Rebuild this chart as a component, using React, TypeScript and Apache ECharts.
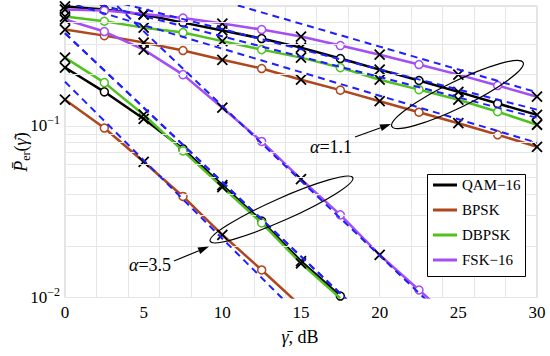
import React, { useEffect, useRef } from 'react';
import * as echarts from 'echarts';

// ---------- data ----------
const SNR_DB = [0, 2.5, 5, 7.5, 10, 12.5, 15, 17.5, 20, 22.5, 25, 27.5, 30];
const MODULATIONS = ['QAM−16', 'BPSK', 'DBPSK', 'FSK−16'];
const X_TICKS = [0, 5, 10, 15, 20, 25, 30];
const Y_MINOR_GRID = [0.02, 0.03, 0.04, 0.05, 0.06, 0.07, 0.08, 0.09, 0.2, 0.3, 0.4];

// alpha = 1.1
const QAM16_A11 = [0.497, 0.477, 0.446, 0.4, 0.36, 0.323, 0.286, 0.247, 0.213, 0.184, 0.158, 0.135, 0.116];
const BPSK_A11 = [0.3645, 0.336, 0.306, 0.275, 0.243, 0.216, 0.186, 0.1616, 0.1394, 0.1202, 0.1037, 0.0888, 0.0756];
const DBPSK_A11 = [0.434, 0.4075, 0.374, 0.35, 0.312, 0.2785, 0.25, 0.2186, 0.186, 0.1627, 0.1422, 0.121, 0.1016];
const FSK16_A11 = [0.477, 0.47, 0.449, 0.425, 0.395, 0.3645, 0.332, 0.294, 0.26, 0.228, 0.199, 0.172, 0.148];

// alpha = 3.5 (last points run below the axis minimum)
const QAM16_A35 = [0.219, 0.158, 0.11, 0.0735, 0.0452, 0.0279, 0.0163, 0.0102];
const BPSK_A35 = [0.1422, 0.0972, 0.0618, 0.0388, 0.0232, 0.01447, 0.0089];
const DBPSK_A35 = [0.25, 0.1788, 0.1162, 0.0715, 0.044, 0.0272, 0.0158, 0.0099];
const FSK16_A35 = [0.417, 0.355, 0.2785, 0.199, 0.1277, 0.0812, 0.049, 0.0303, 0.0177, 0.01106, 0.0069];

// asymptotes (dashed): x end points and values
const ASYM_X_A11 = [0, 30];
const QAM16_ASYM_A11 = [0.629, 0.1244];
const BPSK_ASYM_A11 = [0.53, 0.0798];
const DBPSK_ASYM_A11 = [0.574, 0.1116];
const FSK16_ASYM_A11 = [0.988, 0.157];

const QAM16_ASYM_X_A35 = [0, 20];
const QAM16_ASYM_A35 = [0.3467, 0.0064];
const BPSK_ASYM_X_A35 = [0, 15];
const BPSK_ASYM_A35 = [0.181, 0.00769];
const DBPSK_ASYM_X_A35 = [0, 20];
const DBPSK_ASYM_A35 = [0.3467, 0.0064];
const FSK16_ASYM_X_A35 = [0, 25];
const FSK16_ASYM_A35 = [0.972, 0.00643];

// ---------- styles ----------
const FONT = 'Liberation Serif, serif';
const COLORS = ['#000000', '#B0461C', '#4FC21E', '#A44EF5'];
const DASH_COLOR = '#1E1EFF';
const X_SYMBOL = 'path://M0,0L10,10M10,0L0,10';

function curve(name: string, color: string, ys: number[], z: number) {
  return {
    type: 'line',
    name,
    z,
    clip: true,
    silent: true,
    showSymbol: true,
    lineStyle: { color, width: 2.5 },
    itemStyle: { color },
    emphasis: { disabled: true },
    data: ys.map((y, i) => {
      const isX = i % 2 === 0;
      return {
        value: [SNR_DB[i], y],
        symbol: isX ? X_SYMBOL : 'circle',
        symbolSize: isX ? 10 : 8,
        itemStyle: isX
          ? { color: '#000', borderColor: '#000', borderWidth: 1.8 }
          : { color: '#fff', borderColor: color, borderWidth: 1.5 },
      };
    }),
  };
}

function asym(xs: number[], ys: number[]) {
  return {
    type: 'line',
    name: 'asymptote',
    z: 5,
    clip: true,
    silent: true,
    symbol: 'none',
    lineStyle: { color: DASH_COLOR, width: 2, type: [7, 5] },
    emphasis: { disabled: true },
    data: xs.map((x, i) => [x, ys[i]]),
  };
}

function arrow(x1: number, y1: number, x2: number, y2: number) {
  const a = Math.atan2(y2 - y1, x2 - x1);
  const len = 11;
  const w = 3.5;
  const bx = x2 - len * Math.cos(a);
  const by = y2 - len * Math.sin(a);
  return [
    { type: 'line', shape: { x1, y1, x2: bx, y2: by }, style: { stroke: '#000', lineWidth: 1.2 }, z: 30 },
    {
      type: 'polygon',
      shape: {
        points: [
          [x2, y2],
          [bx - w * Math.sin(a), by + w * Math.cos(a)],
          [bx + w * Math.sin(a), by - w * Math.cos(a)],
        ],
      },
      style: { fill: '#000' },
      z: 30,
    },
  ];
}

const deg = (d: number) => (d * Math.PI) / 180;

export default function App() {
  const ref = useRef<HTMLDivElement>(null);
  useEffect(() => {
    document.body.style.margin = '0';
    if (!ref.current) return;
    const chart = echarts.init(ref.current, undefined, { renderer: 'svg' });

    const A11 = [QAM16_A11, BPSK_A11, DBPSK_A11, FSK16_A11];
    const A35 = [QAM16_A35, BPSK_A35, DBPSK_A35, FSK16_A35];
    const series: any[] = [];
    // host for minor horizontal grid lines
    series.push({
      type: 'line',
      name: 'grid',
      z: 1,
      silent: true,
      data: [],
      markLine: {
        silent: true,
        symbol: 'none',
        label: { show: false },
        lineStyle: { color: '#e6e6e6', type: 'solid', width: 1 },
        data: Y_MINOR_GRID.map((v) => ({ yAxis: v })),
      },
    });
    MODULATIONS.forEach((m, k) => {
      series.push(curve(m, COLORS[k], A35[k], 3 + k * 0.01));
    });
    MODULATIONS.forEach((m, k) => {
      series.push(curve(m, COLORS[k], A11[k], 3 + k * 0.01));
    });
    series.push(asym(ASYM_X_A11, QAM16_ASYM_A11));
    series.push(asym(ASYM_X_A11, BPSK_ASYM_A11));
    series.push(asym(ASYM_X_A11, DBPSK_ASYM_A11));
    series.push(asym(ASYM_X_A11, FSK16_ASYM_A11));
    series.push(asym(QAM16_ASYM_X_A35, QAM16_ASYM_A35));
    series.push(asym(BPSK_ASYM_X_A35, BPSK_ASYM_A35));
    series.push(asym(DBPSK_ASYM_X_A35, DBPSK_ASYM_A35));
    series.push(asym(FSK16_ASYM_X_A35, FSK16_ASYM_A35));

    const option: any = {
      animation: false,
      backgroundColor: '#fff',
      textStyle: { fontFamily: FONT },
      grid: { left: 65, right: 13, top: 6, bottom: 58.5, show: true, borderColor: '#c8c8c8', borderWidth: 1 },
      xAxis: [
        {
          type: 'value',
          min: X_TICKS[0],
          max: X_TICKS[X_TICKS.length - 1],
          interval: 5,
          axisLine: { show: false },
          axisTick: { show: false },
          splitLine: { show: false },
          axisLabel: { color: '#000', fontFamily: FONT, fontSize: 17, margin: 6 },
        },
        {
          type: 'value',
          min: 0,
          max: 30,
          interval: 2,
          position: 'bottom',
          axisLine: { show: false },
          axisTick: { show: false },
          axisLabel: { show: false },
          splitLine: { show: true, lineStyle: { color: '#e6e6e6', width: 1 } },
        },
      ],
      yAxis: {
        type: 'log',
        logBase: 10,
        min: 0.01,
        max: 0.5,
        axisLine: { show: false },
        axisTick: { show: false },
        splitLine: { show: true, lineStyle: { color: '#e6e6e6', width: 1 } },
        axisLabel: {
          margin: 5,
          color: '#000',
          showMaxLabel: false,
          formatter: (v: number) => {
            const l = Math.log10(v);
            const e = Math.round(l);
            if (Math.abs(l - e) > 1e-6) return '';
            return `{b|10}{s|−${-e}}`;
          },
          rich: {
            b: { fontFamily: FONT, fontSize: 17, color: '#000' },
            s: { fontFamily: FONT, fontSize: 12, color: '#000', padding: [0, 0, 12, 0] },
          },
        },
      },
      legend: {
        data: MODULATIONS,
        orient: 'vertical',
        left: 433,
        top: 176.5,
        padding: 0,
        itemWidth: 24,
        itemHeight: 3,
        itemGap: 8,
        icon: 'rect',
        selectedMode: false,
        z: 20,
        textStyle: { fontFamily: FONT, fontSize: 15, lineHeight: 17, color: '#000' },
      },
      series,
      graphic: [
        {
          type: 'rect',
          shape: { x: 427.5, y: 174.5, width: 98, height: 102 },
          style: { fill: '#fff', stroke: '#000', lineWidth: 1 },
          z: 15,
        },
        {
          type: 'ellipse',
          x: 457.5,
          y: 94.5,
          rotation: deg(26),
          shape: { cx: 0, cy: 0, rx: 73, ry: 13 },
          style: { fill: 'none', stroke: '#000', lineWidth: 1.2 },
          z: 30,
        },
        {
          type: 'ellipse',
          x: 281.5,
          y: 209.5,
          rotation: deg(24),
          shape: { cx: 0, cy: 0, rx: 78, ry: 11 },
          style: { fill: 'none', stroke: '#000', lineWidth: 1.2 },
          z: 30,
        },
        ...arrow(355, 137, 391, 124),
        ...arrow(174, 261, 209, 246.5),
        {
          type: 'text',
          x: 331,
          y: 147,
          z: 30,
          style: {
            text: '{i|α}{n|=1.1}',
            align: 'center',
            verticalAlign: 'middle',
            rich: {
              i: { fontFamily: FONT, fontSize: 18, fontStyle: 'italic', fill: '#000' },
              n: { fontFamily: FONT, fontSize: 18, fill: '#000' },
            },
          },
        },
        {
          type: 'text',
          x: 150,
          y: 265,
          z: 30,
          style: {
            text: '{i|α}{n|=3.5}',
            align: 'center',
            verticalAlign: 'middle',
            rich: {
              i: { fontFamily: FONT, fontSize: 18, fontStyle: 'italic', fill: '#000' },
              n: { fontFamily: FONT, fontSize: 18, fill: '#000' },
            },
          },
        },
        {
          type: 'text',
          x: 300,
          y: 337,
          z: 30,
          style: {
            text: '{i|γ̄}{n|, dB}',
            align: 'center',
            verticalAlign: 'middle',
            rich: {
              i: { fontFamily: FONT, fontSize: 18, fontStyle: 'italic', fill: '#000' },
              n: { fontFamily: FONT, fontSize: 18, fill: '#000' },
            },
          },
        },
        {
          type: 'text',
          x: 21,
          y: 152,
          rotation: Math.PI / 2,
          z: 30,
          style: {
            text: '{i|P̄}{sub|er}{n|(}{i|γ̄}{n|)}',
            align: 'center',
            verticalAlign: 'middle',
            rich: {
              i: { fontFamily: FONT, fontSize: 18, fontStyle: 'italic', fill: '#000' },
              n: { fontFamily: FONT, fontSize: 18, fill: '#000' },
              sub: { fontFamily: FONT, fontSize: 12, fill: '#000', padding: [9, 0, 0, 0] },
            },
          },
        },
      ],
    };
    chart.setOption(option);
    return () => chart.dispose();
  }, []);
  return <div ref={ref} style={{ width: 550, height: 356 }} />;
}
